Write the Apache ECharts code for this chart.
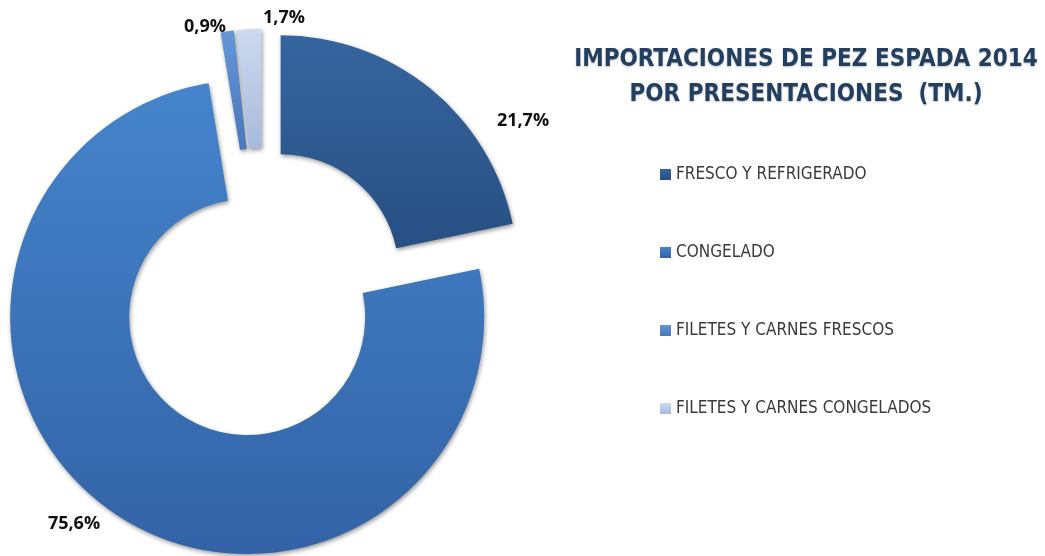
<!DOCTYPE html>
<html>
<head>
<meta charset="utf-8">
<script src="https://cdn.jsdelivr.net/npm/echarts@6/dist/echarts.min.js"></script>
<style>
  html, body { margin: 0; padding: 0; background: #fff; }
  #chart { width: 1045px; height: 556px; }
</style>
</head>
<body>
<div id="chart"></div>
<script>
const categories = [
  'FRESCO Y REFRIGERADO',
  'CONGELADO',
  'FILETES Y CARNES FRESCOS',
  'FILETES Y CARNES CONGELADOS'
];
const shares = [21.7, 75.6, 0.9, 1.7];
const colorsTop = ['#35659f', '#4584cc', '#6596d8', '#cdd9ee'];
const colorsBottom = ['#284f82', '#3363a6', '#4a78ba', '#a7badc'];

const narrowFont = "'Liberation Sans Narrow', 'DejaVu Sans Condensed', 'Open Sans', sans-serif";

// where Excel put the percentage labels (label centres)
const labelSpots = [[523, 121], [74, 524], [205, 27], [284, 18]];

const chart = echarts.init(document.getElementById('chart'));

const grad = (i) => new echarts.graphic.LinearGradient(0, 0, 0, 1, [
  { offset: 0, color: colorsTop[i] },
  { offset: 1, color: colorsBottom[i] }
]);

const pieBase = {
  type: 'pie',
  center: [263, 294],
  radius: [118, 237],
  startAngle: 90,
  clockwise: true,
  avoidLabelOverlap: false,
  emphasis: { disabled: true }
};

chart.setOption({
  animation: false,
  title: {
    text: 'IMPORTACIONES DE PEZ ESPADA 2014\nPOR PRESENTACIONES  (TM.)',
    left: 801,
    top: 37,
    textAlign: 'center',
    textStyle: {
      color: '#233f60',
      fontSize: 24,
      fontWeight: 'bold',
      lineHeight: 35,
      fontFamily: narrowFont,
      textShadowColor: 'rgba(0,0,0,0.25)',
      textShadowBlur: 2,
      textShadowOffsetY: 1
    }
  },
  legend: {
    orient: 'vertical',
    left: 655,
    top: 161,
    itemWidth: 11,
    itemHeight: 11,
    itemGap: 61,
    icon: 'rect',
    data: categories,
    selectedMode: false,
    textStyle: {
      color: '#3a3a3a',
      fontSize: 17,
      fontFamily: narrowFont
    }
  },
  series: [
    // exploded donut
    Object.assign({}, pieBase, {
      selectedMode: 'multiple',
      selectedOffset: 28,
      label: { show: false },
      labelLine: { show: false },
      itemStyle: {
        shadowColor: 'rgba(0,0,0,0.4)',
        shadowBlur: 4,
        shadowOffsetX: 1,
        shadowOffsetY: 2
      },
      data: categories.map((name, i) => ({
        name: name,
        value: shares[i],
        selected: true,
        itemStyle: { color: grad(i) }
      }))
    }),
    // invisible copy that carries the percentage labels
    Object.assign({}, pieBase, {
      silent: true,
      label: {
        show: true,
        position: 'outside',
        color: '#111',
        fontSize: 18,
        fontWeight: 'bold',
        fontFamily: "'Open Sans', sans-serif",
        formatter: (p) => String(p.value).replace('.', ',') + '%'
      },
      labelLine: { show: false },
      labelLayout: (p) => ({
        x: labelSpots[p.dataIndex][0],
        y: labelSpots[p.dataIndex][1],
        align: 'center',
        verticalAlign: 'middle',
        hideOverlap: false
      }),
      itemStyle: { color: 'rgba(0,0,0,0)' },
      data: categories.map((name, i) => ({ name: name, value: shares[i] }))
    })
  ]
});
</script>
</body>
</html>
